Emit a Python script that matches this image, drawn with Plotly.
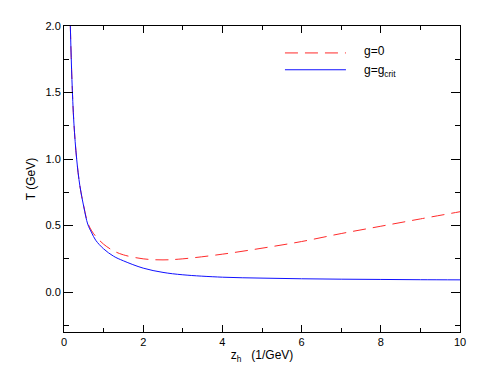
import plotly.graph_objects as go

# horizon position z_h (1/GeV)
z_crit = [0.16, 0.2, 0.25, 0.32, 0.4, 0.5, 0.6, 0.7, 0.8, 1.0, 1.25, 1.5,
          2.0, 2.5, 3.0, 4.0, 5.0, 6.0, 7.0, 8.0, 9.0, 10.0]
t_crit = [2.0, 1.6, 1.27, 1.0, 0.8, 0.64, 0.51, 0.445, 0.39, 0.325, 0.27, 0.235,
          0.18, 0.148, 0.13, 0.112, 0.105, 0.10, 0.097, 0.095, 0.093, 0.092]

z_zero = [0.16, 0.2, 0.25, 0.32, 0.4, 0.5, 0.6, 0.7, 0.8, 1.0, 1.25, 1.5,
          2.0, 2.5, 3.0, 4.0, 5.0, 6.0, 7.0, 8.0, 9.0, 10.0]
t_zero = [2.0, 1.6, 1.27, 1.0, 0.8, 0.645, 0.52, 0.46, 0.42, 0.36, 0.31, 0.28,
          0.25, 0.242, 0.25, 0.285, 0.33, 0.38, 0.44, 0.495, 0.55, 0.604]

x_ticks = [0, 2, 4, 6, 8, 10]
y_ticks = [0.0, 0.5, 1.0, 1.5, 2.0]

RED = "#ff2a2a"
BLUE = "#1010ff"
DASH = "13px,7px"

fig = go.Figure()

fig.add_trace(
    go.Scatter(
        x=z_zero, y=t_zero, mode="lines", name="g=0",
        line=dict(color=RED, width=1, dash=DASH, shape="spline"),
    )
)
fig.add_trace(
    go.Scatter(
        x=z_crit, y=t_crit, mode="lines", name="g=g<sub>crit</sub>",
        line=dict(color=BLUE, width=1, shape="spline"),
    )
)

# legend drawn by hand, as in the original
fig.add_shape(type="line", xref="paper", yref="paper", x0=0.558, x1=0.712,
              y0=0.912, y1=0.912, line=dict(color=RED, width=1, dash=DASH))
fig.add_shape(type="line", xref="paper", yref="paper", x0=0.558, x1=0.712,
              y0=0.857, y1=0.857, line=dict(color=BLUE, width=1))
fig.add_annotation(text="g=0", xref="paper", yref="paper", x=0.752, y=0.918,
                   xanchor="left", yanchor="middle", showarrow=False,
                   font=dict(size=12))
fig.add_annotation(text="g=g<sub>crit</sub>", xref="paper", yref="paper", x=0.752,
                   y=0.852, xanchor="left", yanchor="middle", showarrow=False,
                   font=dict(size=12))

axis_common = dict(
    showline=True, linecolor="black", linewidth=1, mirror="allticks",
    ticks="inside", tickcolor="black", showgrid=False, zeroline=False,
    tickfont=dict(size=11, color="black"),
)

fig.update_xaxes(
    range=[0, 10], tickvals=x_ticks, ticklen=7,
    minor=dict(dtick=1, ticks="inside", ticklen=4, tickcolor="black"),
    title=dict(text="z<sub>h</sub>   (1/GeV)", standoff=3, font=dict(size=12)),
    **axis_common,
)
fig.update_yaxes(
    range=[-0.3, 2.0], tickvals=y_ticks, ticktext=["0.0", "0.5", "1.0", "1.5", "2.0"],
    ticklen=9,
    minor=dict(dtick=0.25, tick0=0, ticks="inside", ticklen=5, tickcolor="black"),
    title=dict(text="T (GeV)", standoff=7, font=dict(size=12)),
    **axis_common,
)

# the page body adds an 8px offset, so margins are trimmed to match
fig.update_layout(
    width=495, height=383,
    margin=dict(l=56, r=43, t=18, b=59),
    plot_bgcolor="white", paper_bgcolor="white",
    font=dict(family="Liberation Sans, Arial", size=11, color="black"),
    showlegend=False,
)

fig.write_html("out.html")
